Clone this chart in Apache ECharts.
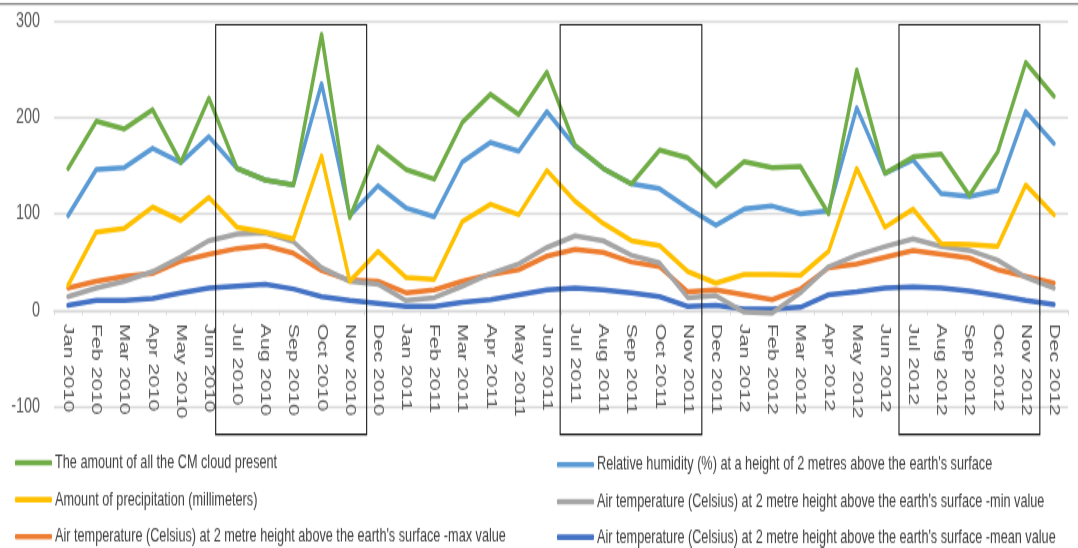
<!DOCTYPE html>
<html>
<head>
<meta charset="utf-8">
<title>Monthly weather and cloud indicators 2010–2012</title>
<script src="https://cdn.jsdelivr.net/npm/echarts@6/dist/echarts.min.js"></script>
<style>
  html, body { margin: 0; padding: 0; background: #ffffff; }
  #frame { width: 1078px; height: 548px; overflow: hidden; position: relative; }
  /* the chart is laid out at 2/3 height and stretched vertically */
  #chart { width: 1078px; height: 365.333px; transform: scaleY(1.5); transform-origin: 0 0; }
</style>
</head>
<body>
<div id="frame"><div id="chart"></div></div>
<script>
// ---- data ----
const months = [
  'Jan 2010','Feb 2010','Mar 2010','Apr 2010','May 2010','Jun 2010',
  'Jul 2010','Aug 2010','Sep 2010','Oct 2010','Nov 2010','Dec 2010',
  'Jan 2011','Feb 2011','Mar 2011','Apr 2011','May 2011','Jun 2011',
  'Jul 2011','Aug 2011','Sep 2011','Oct 2011','Nov 2011','Dec 2011',
  'Jan 2012','Feb 2012','Mar 2012','Apr 2012','May 2012','Jun 2012',
  'Jul 2012','Aug 2012','Sep 2012','Oct 2012','Nov 2012','Dec 2012'
];

const cloudAmount = [147,196,188,208,153,220,147,135,130,286,96,169,
                     146,136,195,224,203,247,171,147,131,166,158,129,
                     154,148,149,100,249,142,159,162,119,164,257,222];

const humidity = [98,146,148,168,153,180,147,135,130,235,98,129,
                  106,97,154,174,165,206,170,147,131,126,106,88,
                  105,108,100,103,210,142,156,121,118,124,206,173];

const precipitation = [26,81,85,107,93,117,86,81,74,160,30,61,
                       34,32,92,110,99,145,113,90,72,67,40,28,
                       37,37,36,61,147,86,105,69,68,66,130,99];

const tempMin = [14,23,30,40,55,72,79,80,71,44,30,27,
                 10,13,25,38,48,65,77,72,57,49,13,15,
                 -2,-3,18,45,57,66,74,66,62,52,34,23];

const tempMax = [23,30,35,38,51,58,64,67,59,41,31,30,
                 18,21,30,37,42,56,63,60,50,45,19,21,
                 16,11,22,44,48,55,62,58,54,42,35,28];

const tempMean = [5,10,10,12,18,23,25,27,22,14,10,7,
                  4,4,8,11,16,21,23,21,18,14,4,5,
                  1,1,3,16,19,23,24,23,20,15,10,6];

const yTicks = { min: -100, max: 300, step: 100 };

const names = {
  cloud: 'The amount of all the CM cloud present',
  humidity: "Relative humidity (%) at a height of 2 metres above the earth's surface",
  precip: 'Amount of precipitation (millimeters)',
  tmin: "Air temperature (Celsius) at 2 metre height above the earth's surface -min value",
  tmax: "Air temperature (Celsius) at 2 metre height above the earth's surface -max value",
  tmean: "Air temperature (Celsius) at 2 metre height above the earth's surface -mean value"
};

// highlighted summer-to-autumn periods
const periods = [
  ['Jul 2010', 'Nov 2010'],
  ['Jul 2011', 'Nov 2011'],
  ['Jul 2012', 'Nov 2012']
];

// ---- chart ----
const FONT = 'Liberation Sans, Arial, sans-serif';
const chart = echarts.init(document.getElementById('chart'), null, { renderer: 'canvas' });

function lineSeries(name, data, color) {
  return {
    name: name,
    type: 'line',
    data: data,
    symbol: 'none',
    smooth: false,
    lineStyle: { color: color, width: 3.5, join: 'round', cap: 'round' },
    itemStyle: { color: color },
    emphasis: { disabled: true }
  };
}

// one legend entry per block: two columns of three rows
function legendEntry(name, left, top) {
  return {
    data: [name],
    left: left,
    top: top,
    orient: 'horizontal',
    icon: 'roundRect',
    itemWidth: 37,
    itemHeight: 3.6,
    padding: 0,
    selectedMode: false,
    textStyle: { fontFamily: FONT, fontSize: 12.7, color: '#404040', padding: [0, 0, 0, -2] }
  };
}

chart.setOption({
  animation: false,
  backgroundColor: '#ffffff',
  grid: { left: 54, right: 10, top: 14, bottom: 94, containLabel: false },
  xAxis: {
    type: 'category',
    data: months,
    boundaryGap: true,
    position: 'bottom',
    axisLine: { onZero: false, lineStyle: { color: '#d9d9d9', width: 1.3 } },
    axisTick: { show: true, length: 3.4, lineStyle: { color: '#d9d9d9', width: 1 } },
    axisLabel: {
      interval: 0, rotate: -90, margin: 9,
      fontFamily: FONT, fontSize: 14.4, color: '#595959'
    },
    splitLine: { show: false }
  },
  yAxis: {
    type: 'value',
    min: yTicks.min, max: yTicks.max, interval: yTicks.step,
    axisLine: { show: false },
    axisTick: { show: false },
    axisLabel: { margin: 14, fontFamily: FONT, fontSize: 14.4, color: '#595959' },
    splitLine: { lineStyle: { color: '#d9d9d9', width: 1.3 } }
  },
  legend: [
    legendEntry(names.cloud, 15, 302),
    legendEntry(names.precip, 15, 326.6),
    legendEntry(names.tmax, 15, 351.2),
    legendEntry(names.humidity, 557, 303.3),
    legendEntry(names.tmin, 557, 328),
    legendEntry(names.tmean, 557, 351.6)
  ],
  // drawing order: later series sit on top
  series: [
    lineSeries(names.tmean, tempMean, '#4472C4'),
    lineSeries(names.tmax, tempMax, '#ED7D31'),
    lineSeries(names.tmin, tempMin, '#A5A5A5'),
    lineSeries(names.precip, precipitation, '#FFC000'),
    lineSeries(names.humidity, humidity, '#5B9BD5'),
    lineSeries(names.cloud, cloudAmount, '#70AD47')
  ]
});

// move the category axis (line, ticks, labels) up to the value 0
function placeAxisAtZero() {
  const yZero = chart.convertToPixel({ yAxisIndex: 0 }, 0);
  const yBase = chart.convertToPixel({ yAxisIndex: 0 }, yTicks.min);
  chart.setOption({ xAxis: { offset: yZero - yBase } });
}

// frame boxes around each highlighted period, placed through the axes
function drawPeriodBoxes() {
  const grid = chart.getModel().getComponent('grid').coordinateSystem.getRect();
  const step = grid.width / months.length;
  const yTop = chart.convertToPixel({ yAxisIndex: 0 }, 296);
  const yBottom = chart.convertToPixel({ yAxisIndex: 0 }, -129);
  const pads = [[0.76, 0.6], [0.53, 0.5], [0.5, 0.5]];
  const boxes = periods.map(function (p, i) {
    const x0 = chart.convertToPixel({ xAxisIndex: 0 }, p[0]) - pads[i][0] * step;
    const x1 = chart.convertToPixel({ xAxisIndex: 0 }, p[1]) + pads[i][1] * step;
    return {
      type: 'rect',
      shape: { x: x0, y: yTop, width: x1 - x0, height: yBottom - yTop },
      style: { fill: 'none', stroke: '#1a1a1a', lineWidth: 1.1 },
      z: 100,
      silent: true
    };
  });
  boxes.push({
    type: 'line',
    shape: { x1: 0, y1: 2.7, x2: 1078, y2: 2.7 },
    style: { stroke: '#7f7f7f', lineWidth: 1.2 },
    silent: true
  });
  chart.setOption({ graphic: boxes });
}

placeAxisAtZero();
drawPeriodBoxes();
</script>
</body>
</html>
